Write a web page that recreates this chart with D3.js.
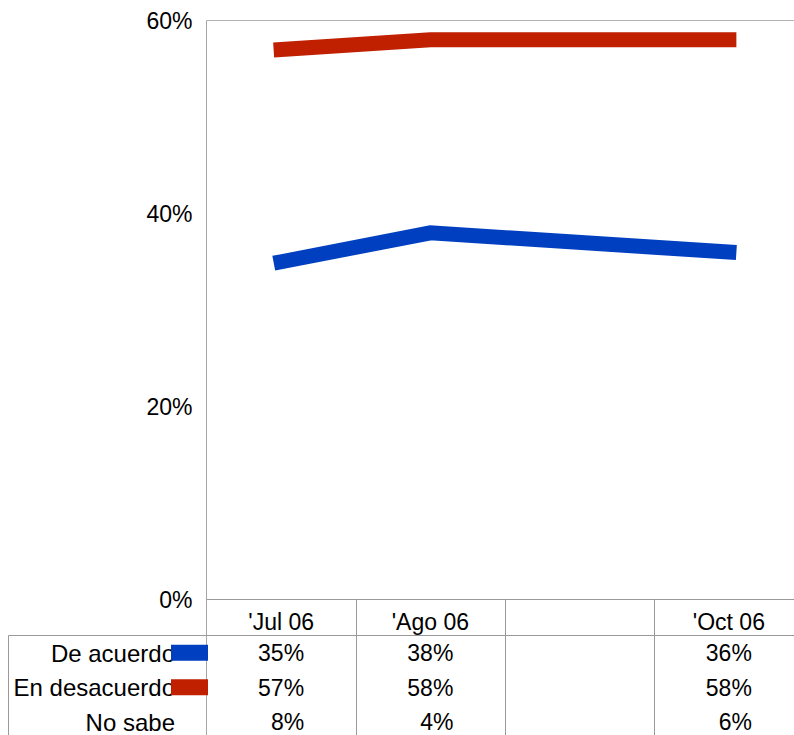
<!DOCTYPE html>
<html>
<head>
<meta charset="utf-8">
<script src="https://cdn.jsdelivr.net/npm/d3@7"></script>
<style>
  body { margin: 0; background: #fff; }
  svg { display: block; font-family: "Liberation Sans", Arial, sans-serif; }
</style>
</head>
<body>
<svg id="chart" width="794" height="735"></svg>
<script>
// data
const categories = ["'Jul 06", "'Ago 06", "", "'Oct 06"];
const deAcuerdo = [35, 38, null, 36];
const enDesacuerdo = [57, 58, null, 58];
const noSabe = [8, 4, null, 6];
const seriesNames = ["De acuerdo", "En desacuerdo", "No sabe"];
const yTicks = [0, 20, 40, 60];

const series = [
  {name: seriesNames[0], values: deAcuerdo, color: "#0040c0"},
  {name: seriesNames[1], values: enDesacuerdo, color: "#c02000"},
  {name: seriesNames[2], values: noSabe, color: null}
];

const svg = d3.select("#chart");
const fontSize = 23;
const plotLeft = 206.5, plotTop = 20.5, plotBottom = 599.5;
const rowH = 34.5;
const tableTop = 635.5;

// Scales
const x = d3.scaleBand()
  .domain(d3.range(categories.length))
  .range([plotLeft, plotLeft + 149.25 * categories.length])
  .padding(0);

const y = d3.scaleLinear()
  .domain([0, 60])
  .range([plotBottom, plotTop]);

const cx = i => x(i) + x.bandwidth() / 2;

// plot frame: top line, left axis, bottom line
svg.append("line")
  .attr("x1", plotLeft).attr("x2", 794)
  .attr("y1", y(60)).attr("y2", y(60))
  .attr("stroke", "#b3b3b3");

svg.append("line")
  .attr("x1", plotLeft).attr("x2", 794)
  .attr("y1", y(0)).attr("y2", y(0))
  .attr("stroke", "#999");

svg.append("line")
  .attr("x1", plotLeft).attr("x2", plotLeft)
  .attr("y1", plotTop).attr("y2", 735)
  .attr("stroke", "#a6a6a6");

// Y axis labels
const yAxis = svg.append("g")
  .attr("transform", "translate(" + plotLeft + ",1)")
  .call(d3.axisLeft(y).tickValues(yTicks).tickSize(0).tickPadding(14)
    .tickFormat(d => d + "%"));
yAxis.select(".domain").remove();
yAxis.selectAll("text")
  .attr("font-size", fontSize)
  .attr("font-family", "Liberation Sans, Arial, sans-serif")
  .attr("fill", "#000");

// Lines
const line = d3.line()
  .x(d => cx(d.i))
  .y(d => y(d.v));

series.filter(s => s.color).forEach(s => {
  const pts = s.values.map((v, i) => ({i, v})).filter(d => d.v != null);
  svg.append("path")
    .datum(pts)
    .attr("d", line)
    .attr("fill", "none")
    .attr("stroke", s.color)
    .attr("stroke-width", 15)
    .attr("stroke-linecap", "square")
    .attr("stroke-linejoin", "miter");
});

// Data table
const tableRight = 794;
svg.append("line")
  .attr("x1", 8.5).attr("x2", tableRight)
  .attr("y1", tableTop).attr("y2", tableTop)
  .attr("stroke", "#999");
svg.append("line")
  .attr("x1", 8.5).attr("x2", 8.5)
  .attr("y1", tableTop).attr("y2", 735)
  .attr("stroke", "#999");

// column separators
categories.forEach((c, i) => {
  if (i === 0) return;
  svg.append("line")
    .attr("x1", Math.round(x(i)) + 0.5).attr("x2", Math.round(x(i)) + 0.5)
    .attr("y1", plotBottom).attr("y2", 735)
    .attr("stroke", "#999");
});

// header labels
svg.selectAll(".cat")
  .data(categories)
  .enter()
  .append("text")
  .attr("x", (d, i) => cx(i))
  .attr("y", 622)
  .attr("dy", "0.35em")
  .attr("text-anchor", "middle")
  .attr("font-size", fontSize)
  .text(d => d);

// row labels, legend keys and values
series.forEach((s, r) => {
  const rowY = tableTop + rowH * r + rowH / 2;
  svg.append("text")
    .attr("x", 175)
    .attr("y", rowY + 0.5)
    .attr("dy", "0.35em")
    .attr("text-anchor", "end")
    .attr("font-size", 24)
    .text(s.name);
  if (s.color) {
    svg.append("rect")
      .attr("x", 171).attr("y", rowY - 8)
      .attr("width", 37).attr("height", 16)
      .attr("fill", s.color);
  }
  s.values.forEach((v, i) => {
    if (v == null) return;
    svg.append("text")
      .attr("x", cx(i) + 23)
      .attr("y", rowY + 0.5)
      .attr("dy", "0.35em")
      .attr("text-anchor", "end")
      .attr("font-size", fontSize)
      .text(v + "%");
  });
});
</script>
</body>
</html>
